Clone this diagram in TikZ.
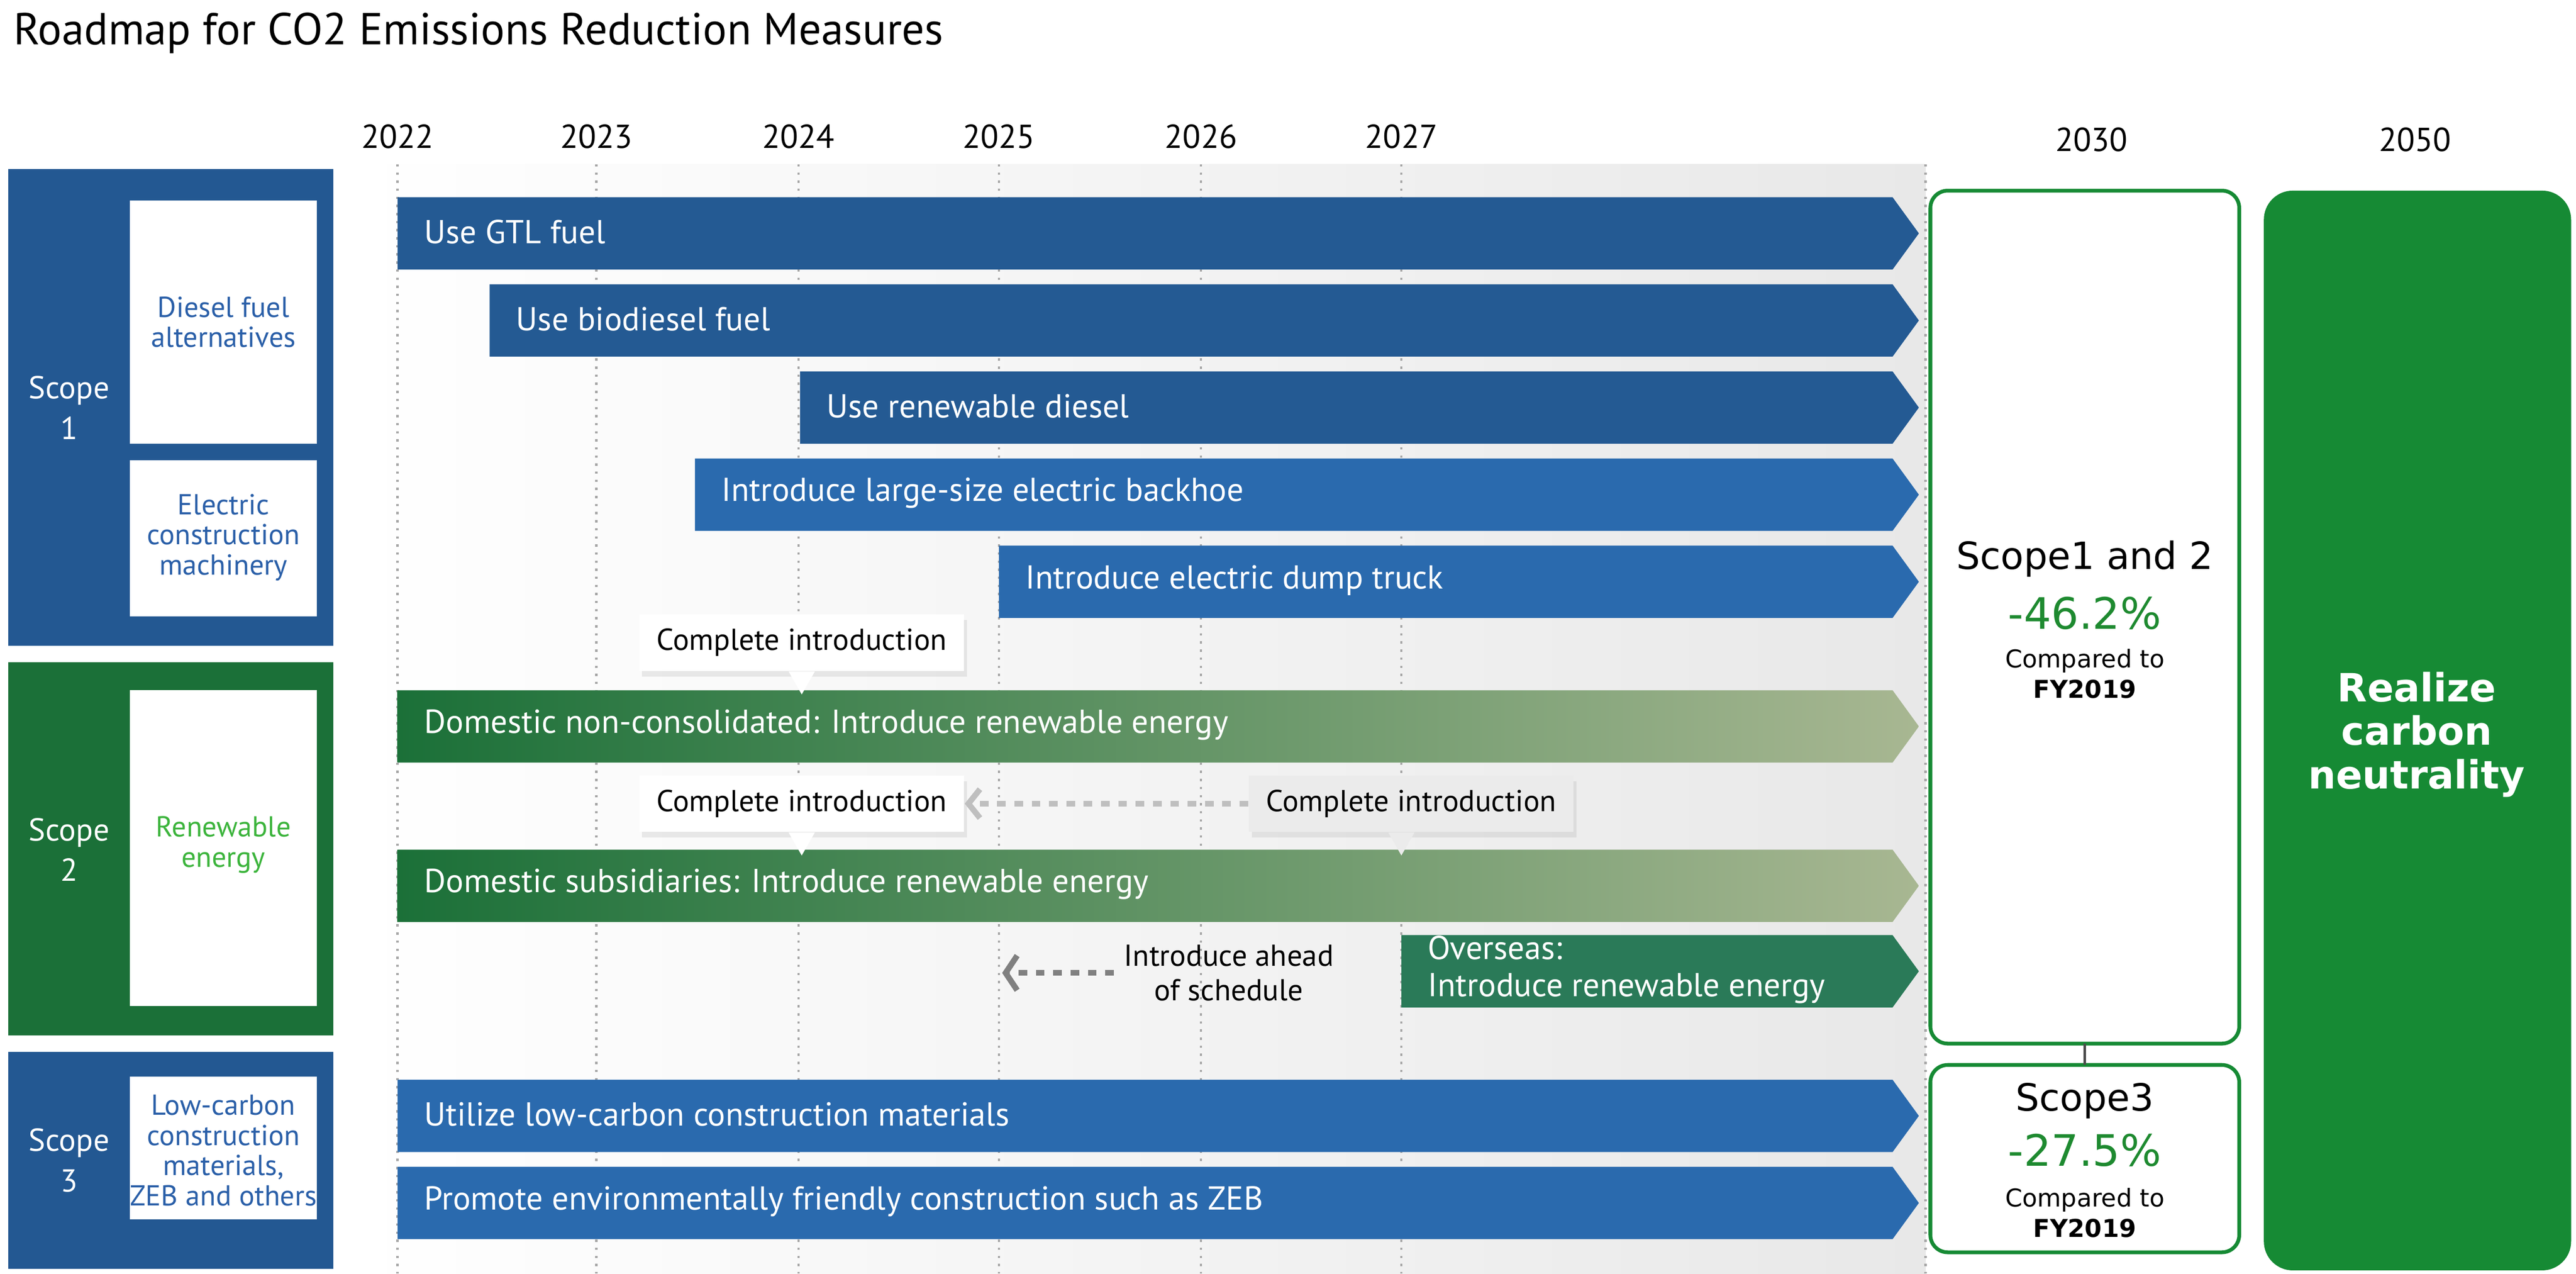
\documentclass[tikz,border=0pt]{standalone}
\usepackage{fontspec}
\setmainfont{PT Sans}
\newfontfamily\boxfont{DejaVu Sans}
\usetikzlibrary{arrows.meta,shadows}

\definecolor{scopeblue}{HTML}{235892}
\definecolor{bardark}{HTML}{245A93}
\definecolor{barblue}{HTML}{2A6AAE}
\definecolor{scopegreen}{HTML}{1B7038}
\definecolor{barsage}{HTML}{A8B792}
\definecolor{overseasgreen}{HTML}{2A7A58}
\definecolor{goalgreen}{HTML}{168A34}
\definecolor{pctgreen}{HTML}{1E8A30}
\definecolor{labelblue}{HTML}{2A5FA8}
\definecolor{labelgreen}{HTML}{3CB43C}

\tikzset{
  bartext/.style={anchor=west,text=white,font=\fontsize{11.5}{13}\selectfont,align=left},
  callout/.style={fill=white,inner xsep=6pt,inner ysep=5pt,font=\fontsize{10.5}{12}\selectfont,
    drop shadow={opacity=0.15,shadow xshift=1pt,shadow yshift=-2pt}},
  scopetext/.style={text=white,font=\fontsize{11}{14}\selectfont,align=center},
  kindtext/.style={font=\fontsize{10}{10.5}\selectfont,align=center},
  goalbox/.style={draw=goalgreen,line width=1.3pt,rounded corners=6pt,fill=white},
}

% one roadmap bar: name, start x, top y, fill, text
\newcommand{\roadbar}[5]{%
  \path[#4] (#2,#3) -- (1152,#3) -- (1168,#3+22) -- (1152,#3+44) -- (#2,#3+44) -- cycle;
  \node[bartext] (#1) at (#2+10,#3+21) {#5};}

\begin{document}
\begin{tikzpicture}[x=0.02cm,y=-0.02cm]
    \useasboundingbox (0,0) rectangle (1568,775);
    \fill[white] (0,0) rectangle (1568,775);

    % Title
    \node[anchor=west,font=\fontsize{15.5}{18}\selectfont] (title) at (2,20) {Roadmap for CO2 Emissions Reduction Measures};

    % Timeline background and years
    \shade[left color=white,right color=black!9] (215,100) rectangle (1172,775);
    \foreach \x/\yr in {242/2022,363/2023,486/2024,608/2025,731/2026,853/2027} {
        \draw[black!35,dotted,thick] (\x,100) -- (\x,775);
        \node[font=\fontsize{11.5}{13}\selectfont] (y\yr) at (\x,83) {\yr};
    }
    \draw[black!35,dotted,thick] (1172,100) -- (1172,775);
    \node[font=\fontsize{11.5}{13}\selectfont] (y2030) at (1273,85) {2030};
    \node[font=\fontsize{11.5}{13}\selectfont] (y2050) at (1470,85) {2050};

    % Scope blocks
    \fill[scopeblue] (5,103) rectangle (203,393);
    \fill[white] (79,122) rectangle (193,270);
    \fill[white] (79,280) rectangle (193,375);
    \node[scopetext] (scope1) at (42,248) {Scope\\1};
    \node[kindtext,text=labelblue] (diesel) at (136,196) {Diesel fuel\\alternatives};
    \node[kindtext,text=labelblue] (electric) at (136,327) {Electric\\construction\\machinery};

    \fill[scopegreen] (5,403) rectangle (203,630);
    \fill[white] (79,420) rectangle (193,612);
    \node[scopetext] (scope2) at (42,517) {Scope\\2};
    \node[kindtext,text=labelgreen] (renew) at (136,514) {Renewable\\energy};

    \fill[scopeblue] (5,640) rectangle (203,772);
    \fill[white] (79,655) rectangle (193,742);
    \node[scopetext] (scope3) at (42,706) {Scope\\3};
    \node[kindtext,text=labelblue] (lowcarbon) at (136,700) {Low-carbon\\construction\\materials,\\ZEB and others};

    % Bars
    \roadbar{gtl}{242}{120}{fill=bardark}{Use GTL fuel}
    \roadbar{biodiesel}{298}{173}{fill=bardark}{Use biodiesel fuel}
    \roadbar{rdiesel}{487}{226}{fill=bardark}{Use renewable diesel}
    \roadbar{backhoe}{423}{279}{fill=barblue}{Introduce large-size electric backhoe}
    \roadbar{dump}{608}{332}{fill=barblue}{Introduce electric dump truck}
    \roadbar{nonconsol}{242}{420}{left color=scopegreen,right color=barsage}{Domestic non-consolidated: Introduce renewable energy}
    \roadbar{subsid}{242}{517}{left color=scopegreen,right color=barsage}{Domestic subsidiaries: Introduce renewable energy}
    \roadbar{overseas}{853}{569}{fill=overseasgreen}{Overseas:\\Introduce renewable energy}
    \roadbar{materials}{242}{657}{fill=barblue}{Utilize low-carbon construction materials}
    \roadbar{zeb}{242}{710}{fill=barblue}{Promote environmentally friendly construction such as ZEB}

    % Callouts
    \node[callout] (done1) at (488,391) {Complete introduction};
    \fill[white] (done1.south) ++(-8,0) -- ++(16,0) -- ++(-8,14) -- cycle;
    \node[callout] (done2) at (488,489) {Complete introduction};
    \fill[white] (done2.south) ++(-8,0) -- ++(16,0) -- ++(-8,14) -- cycle;
    \node[callout,fill=black!8] (done3) at (859,489) {Complete introduction};
    \fill[black!8] (done3.south) ++(-14,0) -- ++(16,0) -- ++(-8,14) -- cycle;
    \draw[black!25,dashed,line width=2pt,-{Straight Barb[length=4pt,width=10pt]}] (done3.west) -- (done2.east);

    \node[font=\fontsize{10.5}{12}\selectfont,align=center] (ahead) at (748,592) {Introduce ahead\\of schedule};
    \coordinate (aheadend) at (610,592);
    \draw[black!50,dashed,line width=2pt,-{Straight Barb[length=4pt,width=12pt]}] (ahead.west) -- (aheadend);

    % 2030 targets
    \draw[goalbox] (1175,116) rectangle (1363,635);
    \draw[goalbox] (1175,648) rectangle (1363,762);
    \coordinate (s12bottom) at (1269,635);
    \coordinate (s3top) at (1269,648);
    \draw[black!70,thick] (s12bottom) -- (s3top);
    \node[font=\boxfont\fontsize{13}{14}\selectfont] (s12) at (1269,340) {Scope1 and 2};
    \node[font=\boxfont\fontsize{15}{16}\selectfont,text=pctgreen] (s12pct) at (1269,373) {-46.2\%};
    \node[font=\boxfont\fontsize{8.5}{10.5}\selectfont,align=center] (s12base) at (1269,410) {Compared to\\\textbf{FY2019}};
    \node[font=\boxfont\fontsize{13}{14}\selectfont] (s3) at (1269,670) {Scope3};
    \node[font=\boxfont\fontsize{15}{16}\selectfont,text=pctgreen] (s3pct) at (1269,700) {-27.5\%};
    \node[font=\boxfont\fontsize{8.5}{10.5}\selectfont,align=center] (s3base) at (1269,738) {Compared to\\\textbf{FY2019}};

    % 2050 goal
    \fill[goalgreen,rounded corners=10pt] (1378,116) rectangle (1565,773);
    \node[font=\boxfont\bfseries\fontsize{13.5}{15}\selectfont,text=white,align=center] (neutral) at (1471,447) {Realize\\carbon\\neutrality};
\end{tikzpicture}
\end{document}
